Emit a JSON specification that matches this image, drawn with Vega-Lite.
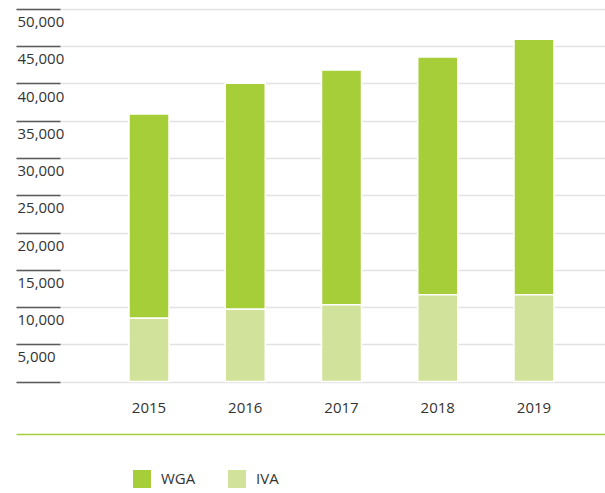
{
  "$schema": "https://vega.github.io/schema/vega-lite/v6.json",
  "width": 589,
  "height": 372.5,
  "autosize": {"type": "none"},
  "padding": {"left": 16, "top": 9, "right": 0, "bottom": 111.5},
  "background": "white",
  "config": {
    "view": {"stroke": null},
    "font": "Open Sans",
    "axis": {"labelFont": "Open Sans", "labelColor": "#333333", "labelFontSize": 15}
  },
  "data": {
    "values": [
      {"year": "2015", "series": "WGA", "value": 27400},
      {"year": "2015", "series": "IVA", "value": 8500},
      {"year": "2016", "series": "WGA", "value": 30350},
      {"year": "2016", "series": "IVA", "value": 9700},
      {"year": "2017", "series": "WGA", "value": 31500},
      {"year": "2017", "series": "IVA", "value": 10300},
      {"year": "2018", "series": "WGA", "value": 31900},
      {"year": "2018", "series": "IVA", "value": 11650},
      {"year": "2019", "series": "WGA", "value": 34300},
      {"year": "2019", "series": "IVA", "value": 11650}
    ]
  },
  "layer": [
    {
      "mark": {"type": "bar", "stroke": "white", "strokeWidth": 1.5},
      "encoding": {
        "x": {
          "field": "year", "type": "nominal",
          "scale": {"paddingInner": 0.5844, "paddingOuter": 0.852, "align": 0.689},
          "axis": {
            "title": null, "orient": "bottom", "domain": false, "ticks": false, "tickSize": 0, "grid": false,
            "labelAngle": 0, "labelBaseline": "alphabetic", "labelPadding": 30.5
          }
        },
        "y": {
          "field": "value", "type": "quantitative", "stack": "zero",
          "scale": {"domain": [0, 50000], "nice": false},
          "axis": {
            "title": null, "orient": "left", "offset": -44, "tickSize": 44,
            "tickColor": "#5a5a5a", "tickWidth": 1.5, "domain": false,
            "grid": true, "gridColor": "#e2e2e2", "gridWidth": 1.5,
            "values": [0, 5000, 10000, 15000, 20000, 25000, 30000, 35000, 40000, 45000, 50000],
            "labelAlign": "left", "labelBaseline": "top", "labelPadding": -1,
            "labelOffset": 5.5, "format": ",d",
            "labelExpr": "datum.value == 0 ? '' : datum.label"
          }
        },
        "color": {
          "field": "series", "type": "nominal",
          "scale": {"domain": ["WGA", "IVA"], "range": ["#a6ce39", "#d1e39b"]},
          "legend": {
            "title": null, "orient": "none", "direction": "horizontal",
            "legendX": 117, "legendY": 461,
            "symbolType": "square", "symbolSize": 324, "symbolStrokeWidth": 0, "symbolOpacity": 1,
            "labelFontSize": 15, "labelColor": "#333333", "labelFont": "Open Sans",
            "labelOffset": 10, "columnPadding": 32
          }
        },
        "order": {"field": "series", "sort": "ascending"}
      }
    },
    {
      "mark": {"type": "rule", "opacity": 0},
      "encoding": {
        "x": {
          "field": "year", "type": "nominal",
          "axis": {
            "title": null, "orient": "bottom", "labels": false, "ticks": false, "grid": false,
            "domain": true, "domainColor": "#a6ce39", "domainWidth": 1.5, "offset": 52.5
          }
        }
      }
    }
  ],
  "resolve": {"axis": {"x": "independent"}}
}
